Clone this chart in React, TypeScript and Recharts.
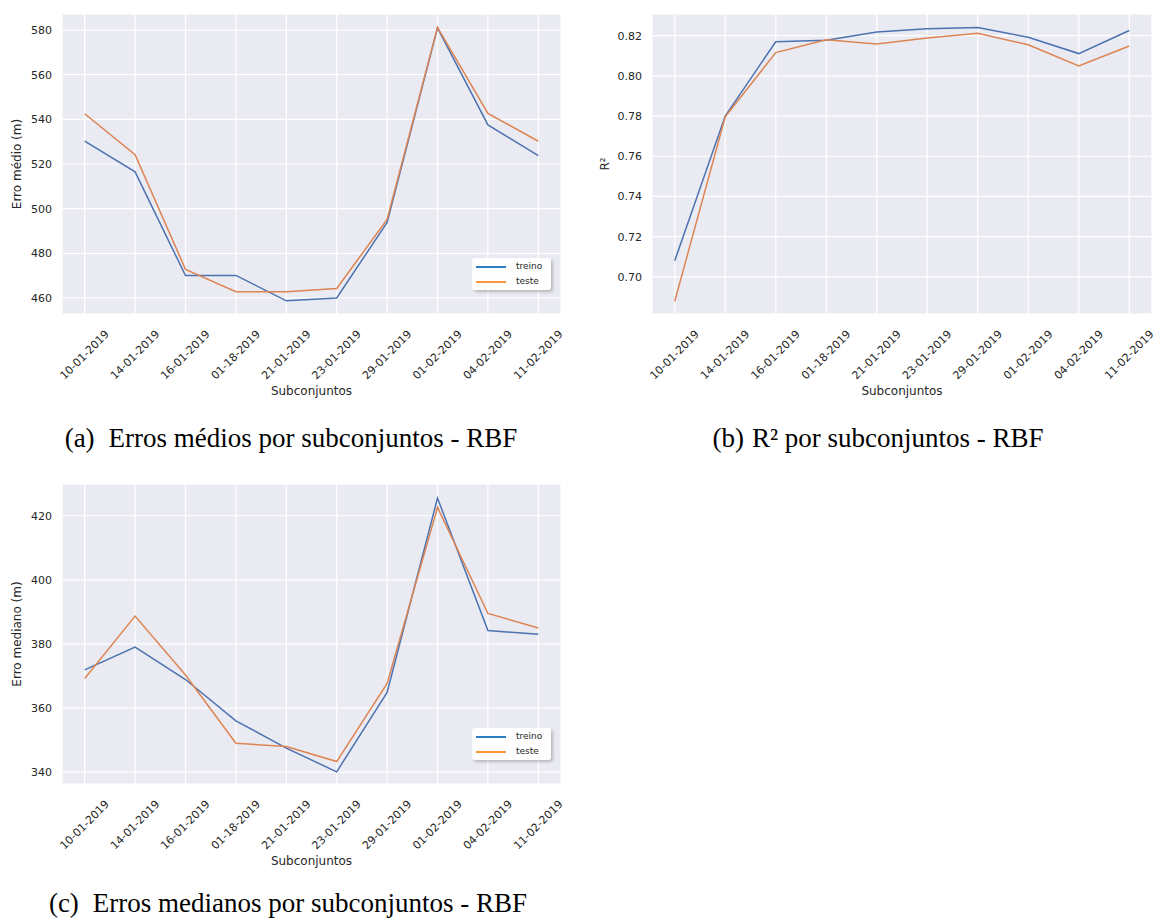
import React from 'react';
import { LineChart, Line, XAxis, YAxis, CartesianGrid, Label } from 'recharts';

const subconjuntos = [
  '10-01-2019', '14-01-2019', '16-01-2019', '01-18-2019', '21-01-2019',
  '23-01-2019', '29-01-2019', '01-02-2019', '04-02-2019', '11-02-2019',
];

const erroMedioTreino = [530.2, 516.5, 470.0, 470.1, 458.7, 460.0, 493.8, 581.0, 537.5, 523.8];
const erroMedioTeste = [542.5, 524.2, 472.8, 462.8, 462.8, 464.2, 495.2, 581.2, 542.7, 530.2];

const r2Treino = [0.708, 0.78, 0.817, 0.8177, 0.8218, 0.8235, 0.8241, 0.8192, 0.8111, 0.8226];
const r2Teste = [0.6878, 0.7796, 0.8116, 0.818, 0.8159, 0.8188, 0.8212, 0.8155, 0.805, 0.8149];

const erroMedianoTreino = [371.9, 379.0, 368.9, 356.0, 347.5, 340.1, 364.9, 425.5, 384.2, 383.0];
const erroMedianoTeste = [369.2, 388.7, 370.3, 349.0, 348.0, 343.3, 367.7, 422.6, 389.5, 385.0];

const ticksMedio = [460, 480, 500, 520, 540, 560, 580];
const ticksR2 = [0.7, 0.72, 0.74, 0.76, 0.78, 0.8, 0.82];
const ticksMediano = [340, 360, 380, 400, 420];
const xTicks = subconjuntos.map((_, i) => i);

const BLUE = '#4c72b0';
const ORANGE = '#dd8452';
const TEXT = '#262626';
const SANS = '"DejaVu Sans", sans-serif';

const buildRows = (treino: number[], teste: number[]) =>
  subconjuntos.map((name, i) => ({ idx: i, name, treino: treino[i], teste: teste[i] }));

// rotated date labels, centred under each tick like matplotlib's rotation=45
const DateTick = (props: any) => {
  const { x, y, payload } = props;
  const cy = y + 39;
  return (
    <text
      x={x}
      y={cy}
      transform={`rotate(-45, ${x}, ${cy})`}
      textAnchor="middle"
      dominantBaseline="central"
      fontFamily={SANS}
      fontSize={11}
      fill={TEXT}
    >
      {subconjuntos[payload.value]}
    </text>
  );
};

type PanelProps = {
  left: number;
  top: number;
  width: number;
  yAxisWidth: number;
  marginRight: number;
  treino: number[];
  teste: number[];
  domain: [number, number];
  ticks: number[];
  yLabel: string;
  yLabelX: number;
  decimals: number;
};

const Panel = (p: PanelProps) => {
  const rows = buildRows(p.treino, p.teste);
  return (
    <div style={{ position: 'absolute', left: p.left, top: p.top }}>
      <LineChart
        width={p.width}
        height={420}
        data={rows}
        margin={{ top: 14, right: p.marginRight, left: 0, bottom: 0 }}
      >
        <CartesianGrid fill="#eaeaf2" fillOpacity={1} stroke="#ffffff" strokeWidth={1.2} />
        <XAxis
          dataKey="idx"
          type="number"
          domain={[-0.45, 9.45]}
          ticks={xTicks}
          allowDataOverflow
          height={106}
          tickLine={false}
          axisLine={false}
          tickSize={0}
          tick={<DateTick />}
          interval={0}
        >
          <Label
            content={(lp: any) => {
              const vb = lp.viewBox || {};
              return (
                <text
                  x={vb.x + vb.width / 2}
                  y={vb.y + 77}
                  textAnchor="middle"
                  dominantBaseline="central"
                  fontFamily={SANS}
                  fontSize={12}
                  fill={TEXT}
                >
                  Subconjuntos
                </text>
              );
            }}
          />
        </XAxis>
        <YAxis
          type="number"
          domain={p.domain}
          ticks={p.ticks}
          allowDataOverflow
          width={p.yAxisWidth}
          tickLine={false}
          axisLine={false}
          tickSize={0}
          tickMargin={10}
          tickFormatter={(v: number) => v.toFixed(p.decimals)}
          tick={{ fontFamily: SANS, fontSize: 11, fill: TEXT }}
        >
          <Label
            content={(lp: any) => {
              const vb = lp.viewBox || {};
              const cx = vb.x + p.yLabelX;
              const cy = vb.y + vb.height / 2;
              return (
                <text
                  x={cx}
                  y={cy}
                  transform={`rotate(-90, ${cx}, ${cy})`}
                  textAnchor="middle"
                  dominantBaseline="central"
                  fontFamily={SANS}
                  fontSize={12}
                  fill={TEXT}
                >
                  {p.yLabel}
                </text>
              );
            }}
          />
        </YAxis>
        <Line type="linear" dataKey="treino" stroke={BLUE} strokeWidth={1.5} dot={false} isAnimationActive={false} />
        <Line type="linear" dataKey="teste" stroke={ORANGE} strokeWidth={1.5} dot={false} isAnimationActive={false} />
      </LineChart>
    </div>
  );
};

const LegendBox = ({ left, top }: { left: number; top: number }) => (
  <div
    style={{
      position: 'absolute',
      left,
      top,
      width: 79,
      height: 32,
      background: 'rgba(255,255,255,0.95)',
      borderRadius: 3,
      boxShadow: '2px 2px 3px rgba(0,0,0,0.22)',
      fontFamily: SANS,
      fontSize: 9,
      color: TEXT,
    }}
  >
    {[
      { label: 'treino', color: '#2f7bbf', y: 9 },
      { label: 'teste', color: '#fb963c', y: 24 },
    ].map((item) => (
      <React.Fragment key={item.label}>
        <div style={{ position: 'absolute', left: 4, top: item.y - 1, width: 30, height: 2, background: item.color }} />
        <div style={{ position: 'absolute', left: 44, top: item.y - 7, lineHeight: '12px' }}>{item.label}</div>
      </React.Fragment>
    ))}
  </div>
);

const Caption = ({ cx, cy, tag, gap, text }: { cx: number; cy: number; tag: string; gap: number; text: React.ReactNode }) => (
  <div
    style={{
      position: 'absolute',
      left: cx - 300,
      top: cy - 13,
      width: 600,
      height: 26,
      lineHeight: '26px',
      textAlign: 'center',
      fontFamily: '"Liberation Serif", "Times New Roman", serif',
      fontSize: 27,
      color: '#000',
      whiteSpace: 'nowrap',
    }}
  >
    {tag}
    <span style={{ marginLeft: gap }}>{text}</span>
  </div>
);

export default function App() {
  return (
    <div style={{ position: 'absolute', left: 0, top: 0, width: 1156, height: 918, background: '#fff', overflow: 'hidden' }}>
      <Panel
        left={0}
        top={0}
        width={580}
        yAxisWidth={62}
        marginRight={19}
        treino={erroMedioTreino}
        teste={erroMedioTeste}
        domain={[452.8, 587.2]}
        ticks={ticksMedio}
        yLabel="Erro médio (m)"
        yLabelX={17}
        decimals={0}
      />
      <LegendBox left={472} top={258} />

      <Panel
        left={580}
        top={0}
        width={576}
        yAxisWidth={72}
        marginRight={4}
        treino={r2Treino}
        teste={r2Teste}
        domain={[0.6815, 0.8308]}
        ticks={ticksR2}
        yLabel="R²"
        yLabelX={25}
        decimals={2}
      />

      <Panel
        left={0}
        top={470}
        width={580}
        yAxisWidth={62}
        marginRight={19}
        treino={erroMedianoTreino}
        teste={erroMedianoTeste}
        domain={[336.3, 429.9]}
        ticks={ticksMediano}
        yLabel="Erro mediano (m)"
        yLabelX={17}
        decimals={0}
      />
      <LegendBox left={472} top={728} />

      <Caption cx={291} cy={438} tag="(a)" gap={14} text="Erros médios por subconjuntos - RBF" />
      <Caption cx={878} cy={438} tag="(b)" gap={8} text="R² por subconjuntos - RBF" />
      <Caption cx={288} cy={903} tag="(c)" gap={14} text="Erros medianos por subconjuntos - RBF" />
    </div>
  );
}
